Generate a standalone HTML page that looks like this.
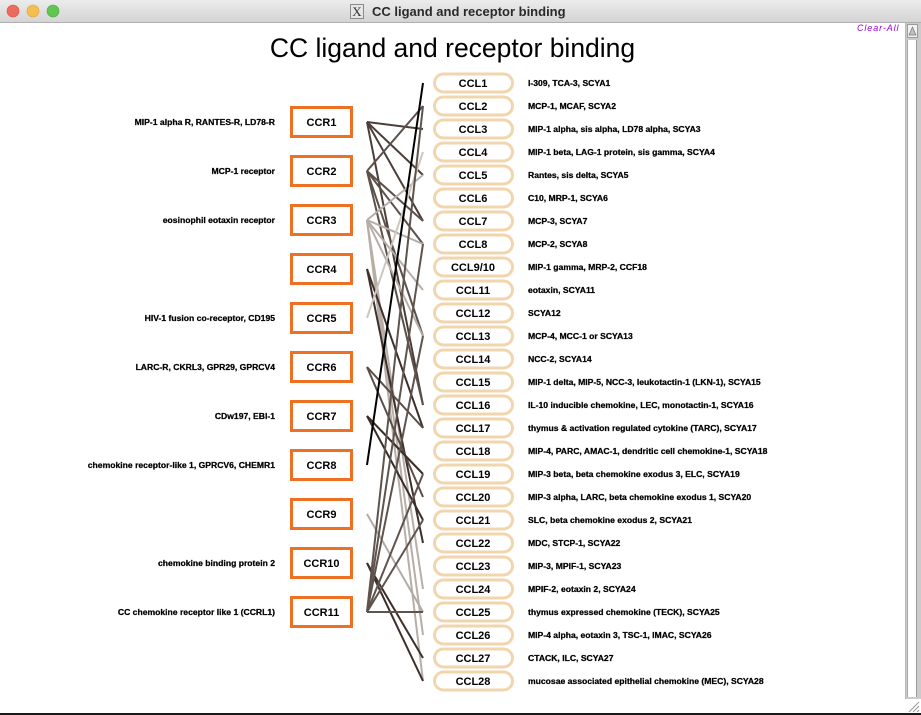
<!DOCTYPE html>
<html><head><meta charset="utf-8"><style>
html,body{margin:0;padding:0;background:#fff;}
body{width:921px;height:715px;overflow:hidden;}
svg{display:block;}
.sm{font-family:"Liberation Sans",sans-serif;font-weight:bold;font-size:8.6px;fill:#000;stroke:#000;stroke-width:0.25px;}
.bx{font-family:"Liberation Sans",sans-serif;font-weight:bold;font-size:11px;fill:#000;}
</style></head><body>
<svg width="921" height="715" viewBox="0 0 921 715" xmlns="http://www.w3.org/2000/svg">
<defs><linearGradient id="tb" x1="0" y1="0" x2="0" y2="1"><stop offset="0" stop-color="#ececec"/><stop offset="1" stop-color="#d4d4d4"/></linearGradient></defs>
<rect width="921" height="715" fill="#fff"/>
<!-- title bar -->
<rect x="0" y="0" width="921" height="22" fill="url(#tb)"/>
<line x1="0" y1="22.5" x2="921" y2="22.5" stroke="#b0b0b0"/>
<circle cx="13" cy="11" r="6" fill="#ed6a5e" stroke="#d45548" stroke-width="0.6"/>
<circle cx="33" cy="11" r="6" fill="#f5bf4f" stroke="#d9a23c" stroke-width="0.6"/>
<circle cx="53" cy="11" r="6" fill="#61c554" stroke="#4ea843" stroke-width="0.6"/>
<rect x="350.5" y="4.5" width="13" height="14" fill="#e6e6e6" stroke="#8a8a8a"/>
<text x="357" y="16" text-anchor="middle" font-family="Liberation Serif,serif" font-size="13" fill="#333">X</text>
<text x="372" y="16" font-family="Liberation Sans,sans-serif" font-weight="bold" font-size="13" fill="#2a2a2a">CC ligand and receptor binding</text>

<!-- main title -->
<text x="452.5" y="57" text-anchor="middle" font-family="Liberation Sans,sans-serif" font-size="26.5" fill="#000">CC ligand and receptor binding</text>
<text x="857" y="31" font-family="Liberation Sans,sans-serif" font-style="italic" font-size="9" letter-spacing="0.9" fill="#9a00d0">Clear-All</text>

<!-- scrollbar -->
<rect x="905" y="23" width="16" height="690" fill="#cbcbcb"/>
<line x1="905.5" y1="23" x2="905.5" y2="713" stroke="#b8b8b8"/>
<rect x="908" y="40" width="8" height="657" fill="#fff"/>
<line x1="907.5" y1="40" x2="907.5" y2="697" stroke="#a8a8a8"/>
<line x1="916.5" y1="40" x2="916.5" y2="697" stroke="#9a9a9a"/>
<rect x="907.5" y="24.5" width="10" height="13" fill="#f3f3f3" stroke="#9a9a9a"/>
<polygon points="912.5,27 909,35 916,35" fill="#c0c0c0" stroke="#777" stroke-width="0.7"/>
<rect x="905" y="699" width="16" height="14" fill="#fff"/>
<line x1="909" y1="712" x2="919" y2="702" stroke="#999"/>
<line x1="913" y1="712" x2="919" y2="706" stroke="#999"/>
<line x1="917" y1="712" x2="919" y2="710" stroke="#999"/>
<rect x="0" y="713" width="921" height="2" fill="#1a1a1a"/>

<!-- connection lines -->
<g stroke-width="2" fill="none" stroke-linecap="butt">
<g stroke="#4b3e38">
<line x1="367" y1="122" x2="423" y2="129"/>
<line x1="367" y1="122" x2="423" y2="175"/>
<line x1="367" y1="122" x2="423" y2="221"/>
<line x1="367" y1="122" x2="423" y2="405"/>
</g>
<g stroke="#5c504a">
<line x1="367" y1="171" x2="423" y2="106"/>
<line x1="367" y1="171" x2="423" y2="221"/>
<line x1="367" y1="171" x2="423" y2="244"/>
<line x1="367" y1="171" x2="423" y2="336"/>
<line x1="367" y1="171" x2="423" y2="405"/>
</g>
<g stroke="#b6aea7">
<line x1="367" y1="220" x2="423" y2="175"/>
<line x1="367" y1="220" x2="423" y2="244"/>
<line x1="367" y1="220" x2="423" y2="290"/>
<line x1="367" y1="220" x2="423" y2="336"/>
<line x1="367" y1="220" x2="423" y2="589"/>
<line x1="367" y1="220" x2="423" y2="635"/>
<line x1="367" y1="220" x2="423" y2="681"/>
</g>
<g stroke="#3e302b">
<line x1="367" y1="269" x2="423" y2="428"/>
<line x1="367" y1="269" x2="423" y2="543"/>
</g>
<g stroke="#cdc7c1">
<line x1="367" y1="318" x2="423" y2="152"/>
</g>
<g stroke="#5a4d47">
<line x1="367" y1="367" x2="423" y2="428"/>
<line x1="367" y1="367" x2="423" y2="497"/>
</g>
<g stroke="#3a2d28">
<line x1="367" y1="416" x2="423" y2="474"/>
<line x1="367" y1="416" x2="423" y2="520"/>
</g>
<line x1="367" y1="465" x2="423" y2="83" stroke="#000"/>
<line x1="367" y1="514" x2="423" y2="612" stroke="#b3aba4"/>
<g stroke="#3d302b">
<line x1="367" y1="563" x2="423" y2="658"/>
<line x1="367" y1="563" x2="423" y2="681"/>
</g>
<g stroke="#5f534d">
<line x1="367" y1="612" x2="423" y2="106"/>
<line x1="367" y1="612" x2="423" y2="244"/>
<line x1="367" y1="612" x2="423" y2="336"/>
<line x1="367" y1="612" x2="423" y2="474"/>
<line x1="367" y1="612" x2="423" y2="520"/>
<line x1="367" y1="612" x2="423" y2="612"/>
</g>
</g>

<!-- CCR boxes -->
<g fill="#fff" stroke="#ee7123" stroke-width="3">
<rect x="291.5" y="107.5" width="60" height="29"/>
<rect x="291.5" y="156.5" width="60" height="29"/>
<rect x="291.5" y="205.5" width="60" height="29"/>
<rect x="291.5" y="254.5" width="60" height="29"/>
<rect x="291.5" y="303.5" width="60" height="29"/>
<rect x="291.5" y="352.5" width="60" height="29"/>
<rect x="291.5" y="401.5" width="60" height="29"/>
<rect x="291.5" y="450.5" width="60" height="29"/>
<rect x="291.5" y="499.5" width="60" height="29"/>
<rect x="291.5" y="548.5" width="60" height="29"/>
<rect x="291.5" y="597.5" width="60" height="29"/>
</g>
<g class="bx" text-anchor="middle">
<text x="321.5" y="126">CCR1</text>
<text x="321.5" y="175">CCR2</text>
<text x="321.5" y="224">CCR3</text>
<text x="321.5" y="273">CCR4</text>
<text x="321.5" y="322">CCR5</text>
<text x="321.5" y="371">CCR6</text>
<text x="321.5" y="420">CCR7</text>
<text x="321.5" y="469">CCR8</text>
<text x="321.5" y="518">CCR9</text>
<text x="321.5" y="567">CCR10</text>
<text x="321.5" y="616">CCR11</text>
</g>
<g class="sm" text-anchor="end">
<text x="275" y="125">MIP-1 alpha R, RANTES-R, LD78-R</text>
<text x="275" y="174">MCP-1 receptor</text>
<text x="275" y="223">eosinophil eotaxin receptor</text>
<text x="275" y="321">HIV-1 fusion co-receptor, CD195</text>
<text x="275" y="370">LARC-R, CKRL3, GPR29, GPRCV4</text>
<text x="275" y="419">CDw197, EBI-1</text>
<text x="275" y="468">chemokine receptor-like 1, GPRCV6, CHEMR1</text>
<text x="275" y="566">chemokine binding protein 2</text>
<text x="275" y="615">CC chemokine receptor like 1 (CCRL1)</text>
</g>

<!-- CCL boxes -->
<g fill="#fff" stroke="#f1d6ad" stroke-width="3">
<rect x="434.5" y="74" width="78" height="18" rx="9"/>
<rect x="434.5" y="97" width="78" height="18" rx="9"/>
<rect x="434.5" y="120" width="78" height="18" rx="9"/>
<rect x="434.5" y="143" width="78" height="18" rx="9"/>
<rect x="434.5" y="166" width="78" height="18" rx="9"/>
<rect x="434.5" y="189" width="78" height="18" rx="9"/>
<rect x="434.5" y="212" width="78" height="18" rx="9"/>
<rect x="434.5" y="235" width="78" height="18" rx="9"/>
<rect x="434.5" y="258" width="78" height="18" rx="9"/>
<rect x="434.5" y="281" width="78" height="18" rx="9"/>
<rect x="434.5" y="304" width="78" height="18" rx="9"/>
<rect x="434.5" y="327" width="78" height="18" rx="9"/>
<rect x="434.5" y="350" width="78" height="18" rx="9"/>
<rect x="434.5" y="373" width="78" height="18" rx="9"/>
<rect x="434.5" y="396" width="78" height="18" rx="9"/>
<rect x="434.5" y="419" width="78" height="18" rx="9"/>
<rect x="434.5" y="442" width="78" height="18" rx="9"/>
<rect x="434.5" y="465" width="78" height="18" rx="9"/>
<rect x="434.5" y="488" width="78" height="18" rx="9"/>
<rect x="434.5" y="511" width="78" height="18" rx="9"/>
<rect x="434.5" y="534" width="78" height="18" rx="9"/>
<rect x="434.5" y="557" width="78" height="18" rx="9"/>
<rect x="434.5" y="580" width="78" height="18" rx="9"/>
<rect x="434.5" y="603" width="78" height="18" rx="9"/>
<rect x="434.5" y="626" width="78" height="18" rx="9"/>
<rect x="434.5" y="649" width="78" height="18" rx="9"/>
<rect x="434.5" y="672" width="78" height="18" rx="9"/>
</g>
<g class="bx" text-anchor="middle">
<text x="473" y="87">CCL1</text>
<text x="473" y="110">CCL2</text>
<text x="473" y="133">CCL3</text>
<text x="473" y="156">CCL4</text>
<text x="473" y="179">CCL5</text>
<text x="473" y="202">CCL6</text>
<text x="473" y="225">CCL7</text>
<text x="473" y="248">CCL8</text>
<text x="473" y="271">CCL9/10</text>
<text x="473" y="294">CCL11</text>
<text x="473" y="317">CCL12</text>
<text x="473" y="340">CCL13</text>
<text x="473" y="363">CCL14</text>
<text x="473" y="386">CCL15</text>
<text x="473" y="409">CCL16</text>
<text x="473" y="432">CCL17</text>
<text x="473" y="455">CCL18</text>
<text x="473" y="478">CCL19</text>
<text x="473" y="501">CCL20</text>
<text x="473" y="524">CCL21</text>
<text x="473" y="547">CCL22</text>
<text x="473" y="570">CCL23</text>
<text x="473" y="593">CCL24</text>
<text x="473" y="616">CCL25</text>
<text x="473" y="639">CCL26</text>
<text x="473" y="662">CCL27</text>
<text x="473" y="685">CCL28</text>
</g>
<g class="sm">
<text x="528" y="86">I-309, TCA-3, SCYA1</text>
<text x="528" y="109">MCP-1, MCAF, SCYA2</text>
<text x="528" y="132">MIP-1 alpha, sis alpha, LD78 alpha, SCYA3</text>
<text x="528" y="155">MIP-1 beta, LAG-1 protein, sis gamma, SCYA4</text>
<text x="528" y="178">Rantes, sis delta, SCYA5</text>
<text x="528" y="201">C10, MRP-1, SCYA6</text>
<text x="528" y="224">MCP-3, SCYA7</text>
<text x="528" y="247">MCP-2, SCYA8</text>
<text x="528" y="270">MIP-1 gamma, MRP-2, CCF18</text>
<text x="528" y="293">eotaxin, SCYA11</text>
<text x="528" y="316">SCYA12</text>
<text x="528" y="339">MCP-4, MCC-1 or SCYA13</text>
<text x="528" y="362">NCC-2, SCYA14</text>
<text x="528" y="385">MIP-1 delta, MIP-5, NCC-3, leukotactin-1 (LKN-1), SCYA15</text>
<text x="528" y="408">IL-10 inducible chemokine, LEC, monotactin-1, SCYA16</text>
<text x="528" y="431">thymus &amp; activation regulated cytokine (TARC), SCYA17</text>
<text x="528" y="454">MIP-4, PARC, AMAC-1, dendritic cell chemokine-1, SCYA18</text>
<text x="528" y="477">MIP-3 beta, beta chemokine exodus 3, ELC, SCYA19</text>
<text x="528" y="500">MIP-3 alpha, LARC, beta chemokine exodus 1, SCYA20</text>
<text x="528" y="523">SLC, beta chemokine exodus 2, SCYA21</text>
<text x="528" y="546">MDC, STCP-1, SCYA22</text>
<text x="528" y="569">MIP-3, MPIF-1, SCYA23</text>
<text x="528" y="592">MPIF-2, eotaxin 2, SCYA24</text>
<text x="528" y="615">thymus expressed chemokine (TECK), SCYA25</text>
<text x="528" y="638">MIP-4 alpha, eotaxin 3, TSC-1, IMAC, SCYA26</text>
<text x="528" y="661">CTACK, ILC, SCYA27</text>
<text x="528" y="684">mucosae associated epithelial chemokine (MEC), SCYA28</text>
</g>
</svg>
</body></html>
